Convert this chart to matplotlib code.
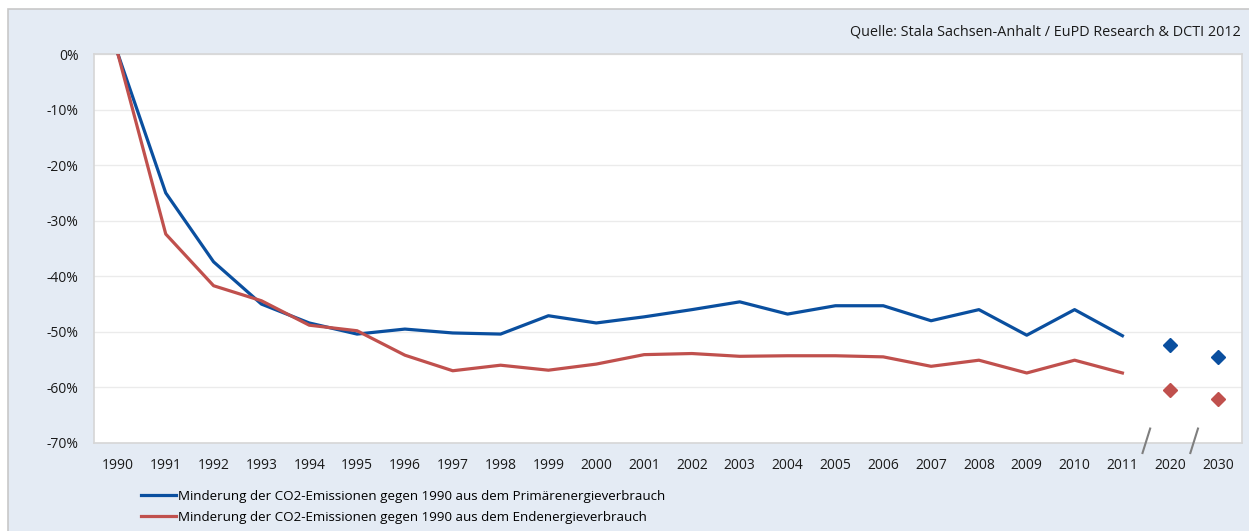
import matplotlib.pyplot as plt
from matplotlib.patches import Rectangle

plt.rcParams['font.family'] = ['Open Sans', 'DejaVu Sans']

years = ['1990', '1991', '1992', '1993', '1994', '1995', '1996', '1997', '1998',
         '1999', '2000', '2001', '2002', '2003', '2004', '2005', '2006', '2007',
         '2008', '2009', '2010', '2011']
goal_years = ['2020', '2030']

# Minderung gegen 1990 in Prozent
primaer = [0, -25.0, -37.4, -45.0, -48.4, -50.4, -49.5, -50.2, -50.4, -47.1,
           -48.4, -47.3, -46.0, -44.6, -46.8, -45.3, -45.3, -48.0, -46.0,
           -50.6, -46.0, -50.7]
ende = [0, -32.4, -41.7, -44.4, -48.8, -49.8, -54.2, -57.0, -56.0, -56.9,
        -55.8, -54.1, -53.9, -54.4, -54.3, -54.3, -54.5, -56.2, -55.1,
        -57.4, -55.1, -57.4]
primaer_ziel = [-52.4, -54.6]
ende_ziel = [-60.5, -62.1]

label_primaer = 'Minderung der CO2-Emissionen gegen 1990 aus dem Primärenergieverbrauch'
label_ende = 'Minderung der CO2-Emissionen gegen 1990 aus dem Endenergieverbrauch'
quelle = 'Quelle: Stala Sachsen-Anhalt / EuPD Research & DCTI 2012'

blau = '#0a4f9f'
rot = '#c0504d'
hintergrund = '#e4ebf4'

fig = plt.figure(figsize=(12.49, 5.31), dpi=100)
fig.patch.set_facecolor('white')
fig.patches.append(Rectangle((8 / 1249, -0.01), 1.0, (522 / 531) + 0.01,
                             transform=fig.transFigure, facecolor=hintergrund,
                             edgecolor='#c8c8c8', linewidth=1.2, zorder=-1))

ax = fig.add_axes([94 / 1249, 88 / 531, 1148 / 1249, 389 / 531])
ax.set_facecolor('white')

labels = years + goal_years
x_hist = list(range(len(years)))
x_goal = [len(years), len(years) + 1]

ax.plot(x_hist, primaer, color=blau, linewidth=2.3, label=label_primaer, zorder=3)
ax.plot(x_hist, ende, color=rot, linewidth=2.3, label=label_ende, zorder=3)
ax.plot(x_goal, primaer_ziel, linestyle='none', marker='D', markersize=7,
        color=blau, zorder=3)
ax.plot(x_goal, ende_ziel, linestyle='none', marker='D', markersize=7,
        color=rot, zorder=3)

ax.set_xlim(-0.5, len(labels) - 0.5)
ax.set_ylim(-70, 0)
ax.set_xticks(range(len(labels)))
ax.set_xticklabels(labels)
ax.set_yticks(range(-70, 1, 10))
ax.set_yticklabels([f'{v}%' for v in range(-70, 1, 10)])
ax.tick_params(axis='both', length=0, labelsize=10, colors='#1a1a1a')
ax.tick_params(axis='x', pad=11)
ax.tick_params(axis='y', pad=11)
ax.grid(axis='y', color='#ebebeb', linewidth=1)
ax.set_axisbelow(True)
for s in ax.spines.values():
    s.set_color('#d6d6d6')
    s.set_linewidth(1.2)

# Achsenbruch zwischen 2011 und den Zieljahren
for xb in (len(years) - 0.5, len(years) + 0.5):
    ax.plot([xb - 0.08, xb + 0.08], [-71.8, -67.4], color='#7f7f7f',
            linewidth=1.5, clip_on=False, zorder=4)

fig.text(1241 / 1249, 1 - 32 / 531, quelle, ha='right', va='center',
         fontsize=10.4, color='#1a1a1a')

fig.legend(loc='upper left', bbox_to_anchor=(141 / 1249, 1 - 490 / 531),
           frameon=False, fontsize=9.6, handlelength=2.6, handletextpad=0.15,
           labelspacing=0.6, borderpad=0, borderaxespad=0)

fig.savefig('out.png', dpi=100, facecolor=fig.get_facecolor())
